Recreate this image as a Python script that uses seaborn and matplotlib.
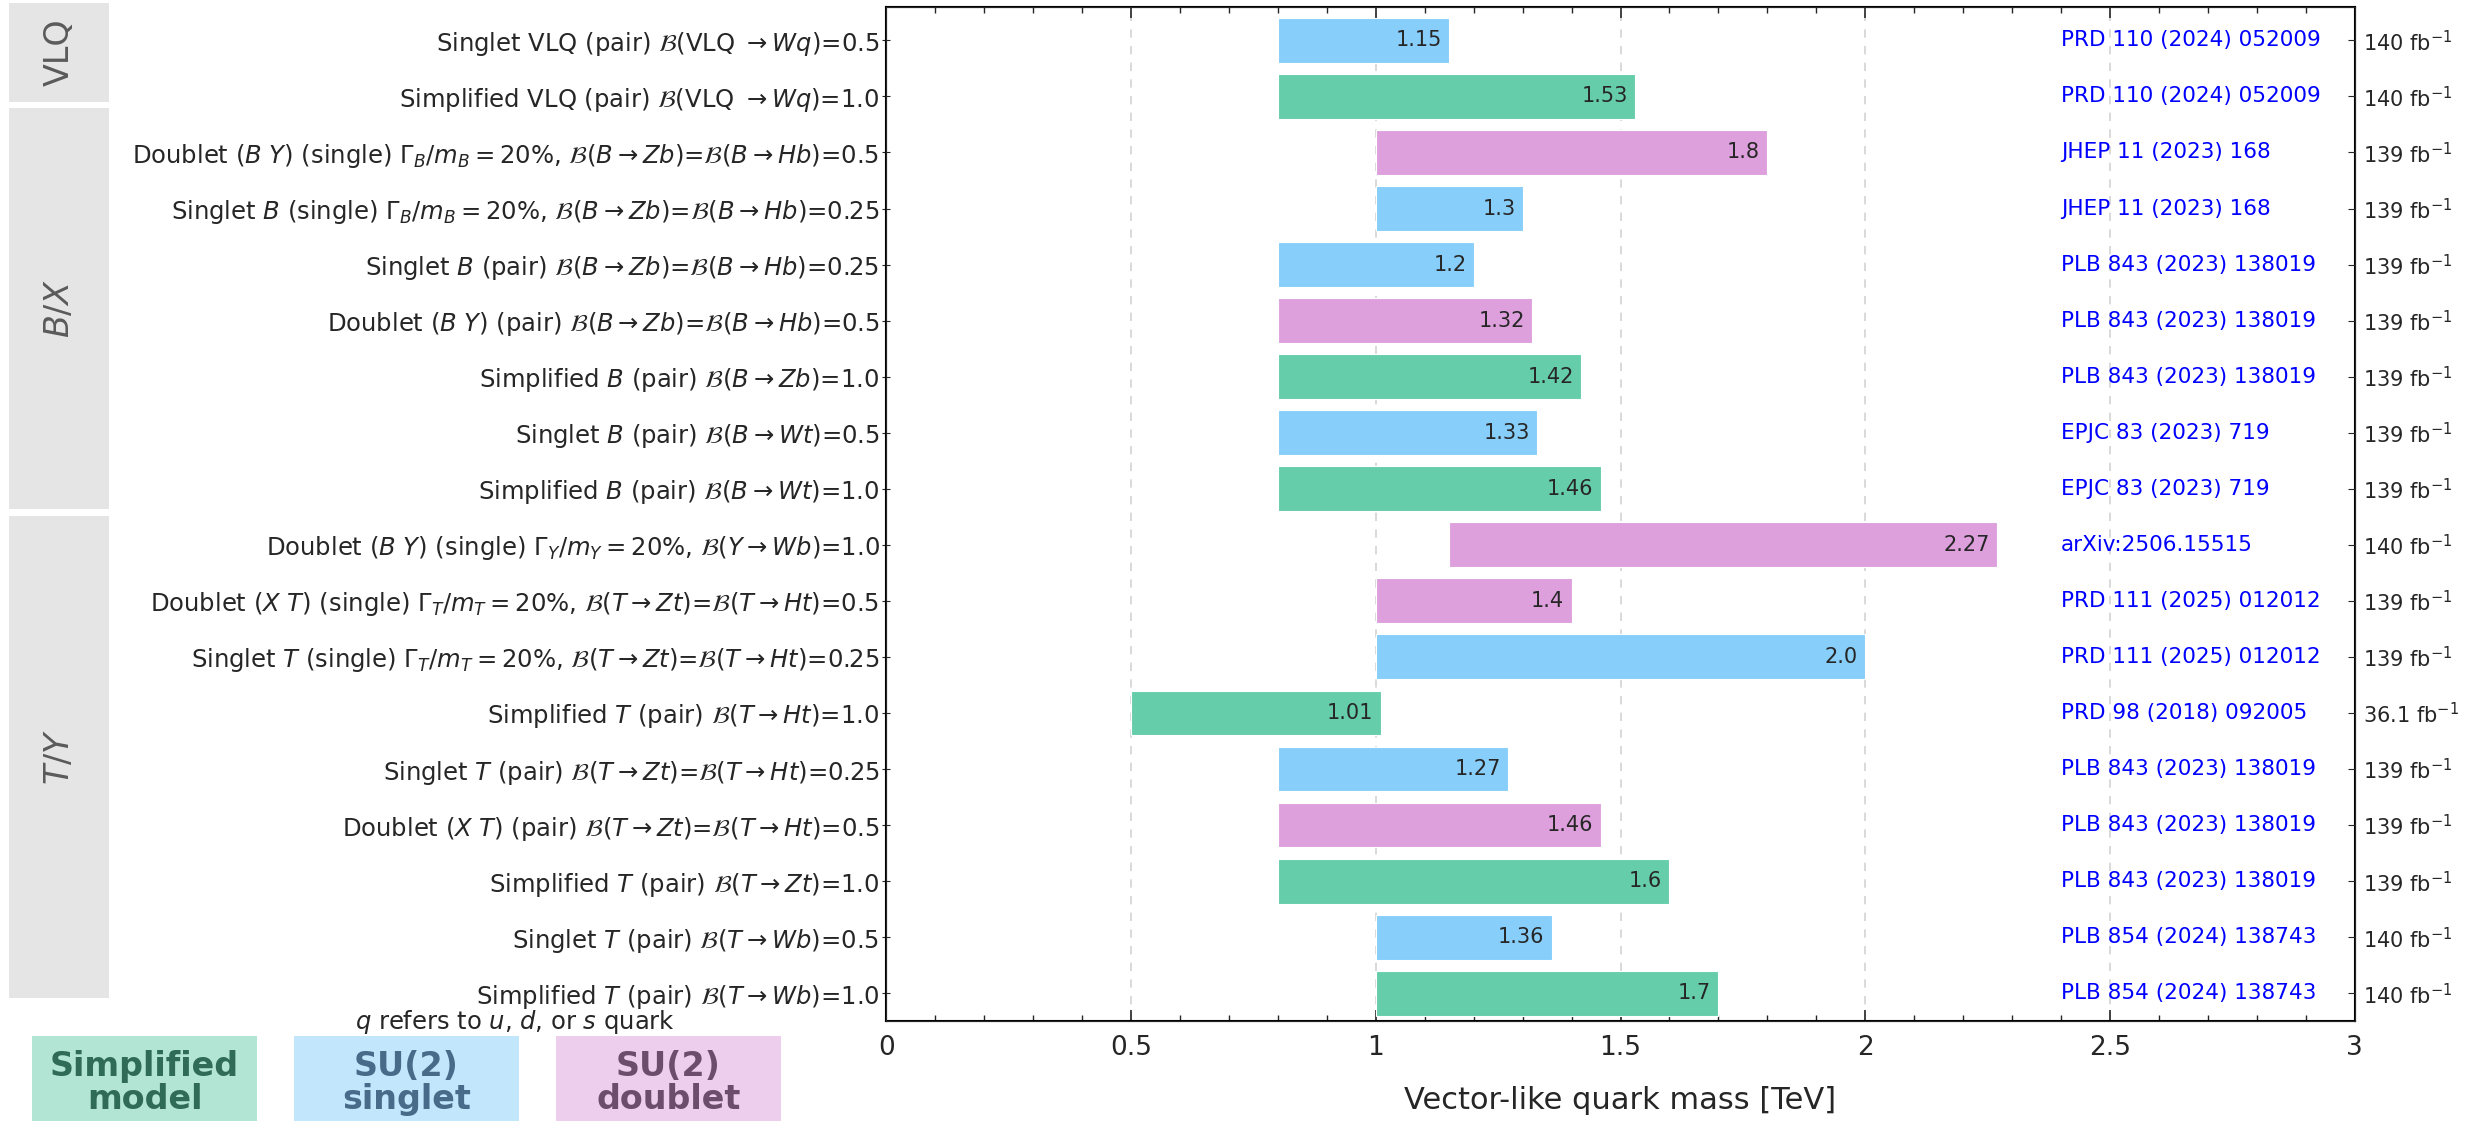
import matplotlib.pyplot as plt
import matplotlib.patches as mpatches
from matplotlib.ticker import MultipleLocator
import seaborn as sns
import pandas as pd

# Rows, top to bottom
labels = [
    r"Singlet VLQ (pair) $\mathcal{B}$(VLQ $\rightarrow Wq$)=0.5",
    r"Simplified VLQ (pair) $\mathcal{B}$(VLQ $\rightarrow Wq$)=1.0",
    r"Doublet ($B$ $Y$) (single) $\Gamma_B/m_B = $20%, $\mathcal{B}(B\rightarrow Zb)$=$\mathcal{B}(B\rightarrow Hb)$=0.5",
    r"Singlet $B$ (single) $\Gamma_B/m_B = $20%, $\mathcal{B}(B\rightarrow Zb)$=$\mathcal{B}(B\rightarrow Hb)$=0.25",
    r"Singlet $B$ (pair) $\mathcal{B}(B\rightarrow Zb)$=$\mathcal{B}(B\rightarrow Hb)$=0.25",
    r"Doublet ($B$ $Y$) (pair) $\mathcal{B}(B\rightarrow Zb)$=$\mathcal{B}(B\rightarrow Hb)$=0.5",
    r"Simplified $B$ (pair) $\mathcal{B}(B\rightarrow Zb)$=1.0",
    r"Singlet $B$ (pair) $\mathcal{B}(B\rightarrow Wt)$=0.5",
    r"Simplified $B$ (pair) $\mathcal{B}(B\rightarrow Wt)$=1.0",
    r"Doublet ($B$ $Y$) (single) $\Gamma_Y/m_Y = $20%, $\mathcal{B}(Y\rightarrow Wb)$=1.0",
    r"Doublet ($X$ $T$) (single) $\Gamma_T/m_T = $20%, $\mathcal{B}(T\rightarrow Zt)$=$\mathcal{B}(T\rightarrow Ht)$=0.5",
    r"Singlet $T$ (single) $\Gamma_T/m_T = $20%, $\mathcal{B}(T\rightarrow Zt)$=$\mathcal{B}(T\rightarrow Ht)$=0.25",
    r"Simplified $T$ (pair) $\mathcal{B}(T\rightarrow Ht)$=1.0",
    r"Singlet $T$ (pair) $\mathcal{B}(T\rightarrow Zt)$=$\mathcal{B}(T\rightarrow Ht)$=0.25",
    r"Doublet ($X$ $T$) (pair) $\mathcal{B}(T\rightarrow Zt)$=$\mathcal{B}(T\rightarrow Ht)$=0.5",
    r"Simplified $T$ (pair) $\mathcal{B}(T\rightarrow Zt)$=1.0",
    r"Singlet $T$ (pair) $\mathcal{B}(T\rightarrow Wb)$=0.5",
    r"Simplified $T$ (pair) $\mathcal{B}(T\rightarrow Wb)$=1.0",
]
starts = [0.8, 0.8, 1.0, 1.0, 0.8, 0.8, 0.8, 0.8, 0.8,
          1.15, 1.0, 1.0, 0.5, 0.8, 0.8, 0.8, 1.0, 1.0]
limits = [1.15, 1.53, 1.8, 1.3, 1.2, 1.32, 1.42, 1.33, 1.46,
          2.27, 1.4, 2.0, 1.01, 1.27, 1.46, 1.6, 1.36, 1.7]
models = ["Singlet", "Simplified", "Doublet", "Singlet", "Singlet", "Doublet",
          "Simplified", "Singlet", "Simplified", "Doublet", "Doublet", "Singlet",
          "Simplified", "Singlet", "Doublet", "Simplified", "Singlet", "Simplified"]
refs = ["PRD 110 (2024) 052009", "PRD 110 (2024) 052009",
        "JHEP 11 (2023) 168", "JHEP 11 (2023) 168",
        "PLB 843 (2023) 138019", "PLB 843 (2023) 138019", "PLB 843 (2023) 138019",
        "EPJC 83 (2023) 719", "EPJC 83 (2023) 719",
        "arXiv:2506.15515",
        "PRD 111 (2025) 012012", "PRD 111 (2025) 012012",
        "PRD 98 (2018) 092005",
        "PLB 843 (2023) 138019", "PLB 843 (2023) 138019", "PLB 843 (2023) 138019",
        "PLB 854 (2024) 138743", "PLB 854 (2024) 138743"]
lumis = ["140", "140", "139", "139", "139", "139", "139", "139", "139",
         "140", "139", "139", "36.1", "139", "139", "139", "140", "140"]

sections = ["VLQ", "$B/X$", "$T/Y$"]
legend_names = ["Simplified\nmodel", "SU(2)\nsinglet", "SU(2)\ndoublet"]

palette = {"Simplified": "mediumaquamarine", "Singlet": "lightskyblue", "Doublet": "plum"}
text_colors = ["#2f6b57", "#476b88", "#6c4d6c"]

sns.set_style("ticks")
plt.rcParams["font.family"] = ["DejaVu Sans"]
plt.rcParams["mathtext.fontset"] = "dejavusans"

df = pd.DataFrame({"label": labels, "start": starts, "limit": limits, "model": models})

fig = plt.figure(figsize=(24.76, 11.21), dpi=100)
ax = fig.add_axes([0.358, 0.089, 0.593, 0.905])

sns.barplot(data=df, x="limit", y="label", hue="model", palette=palette, saturation=1,
            dodge=False, orient="h", width=0.8, legend=False, ax=ax,
            edgecolor="white", linewidth=0.8, zorder=3)

# bars start at the lower edge of the search range
for bar in ax.patches:
    i = int(round(bar.get_y() + bar.get_height() / 2))
    bar.set_x(starts[i])
    bar.set_width(limits[i] - starts[i])

for i in range(len(labels)):
    ax.text(limits[i] - 0.015, i, str(limits[i]), ha="right", va="center", fontsize=15, zorder=4)
    ax.text(2.4, i, refs[i], ha="left", va="center", color="blue", fontsize=15.5)

ax.set_xlim(0, 3)
ax.set_ylim(17.5, -0.6)
ax.xaxis.set_minor_locator(MultipleLocator(0.1))
ax.set_xticks([0, 0.5, 1, 1.5, 2, 2.5, 3])
ax.set_xticklabels(["0", "0.5", "1", "1.5", "2", "2.5", "3"])
ax.xaxis.grid(True, which="major", ls=(0, (5, 5)), color="#d3d3d3", lw=1.2, zorder=0)
ax.tick_params(axis="x", which="major", direction="in", top=True, length=8, width=1.2, labelsize=19, pad=10)
ax.tick_params(axis="x", which="minor", direction="in", top=True, length=4, width=1)
ax.tick_params(axis="y", direction="inout", length=6, labelsize=17.5, pad=2)
ax.set_ylabel("")
ax.set_xlabel("Vector-like quark mass [TeV]", fontsize=22, labelpad=18)
for s in ax.spines.values():
    s.set_linewidth(1.5)
    s.set_color("black")

ax2 = ax.twinx()
ax2.set_ylim(ax.get_ylim())
ax2.set_yticks(range(len(lumis)))
ax2.set_yticklabels([l + r" fb$^{-1}$" for l in lumis])
ax2.tick_params(axis="y", direction="in", length=5, labelsize=15, pad=6)

# section boxes on the left
sec_boxes = [(0.909, 0.997), (0.546, 0.904), (0.110, 0.540)]
for name, (y0, y1) in zip(sections, sec_boxes):
    fig.add_artist(mpatches.Rectangle((0.0036, y0), 0.0404, y1 - y0, transform=fig.transFigure,
                                      facecolor="#e5e5e5", edgecolor="none"))
    fig.text(0.024, (y0 + y1) / 2, name, rotation=90, ha="center", va="center",
             fontsize=24, color="#5a5a5a")

fig.text(0.208, 0.088, r"$q$ refers to $u$, $d$, or $s$ quark", ha="center", va="center", fontsize=17.5)

# colour key
for j, (name, key) in enumerate(zip(legend_names, ["Simplified", "Singlet", "Doublet"])):
    x0 = 0.0129 + j * 0.1058
    fig.add_artist(mpatches.Rectangle((x0, 0.0), 0.0909, 0.076, transform=fig.transFigure,
                                      facecolor=palette[key], alpha=0.5, edgecolor="none"))
    fig.text(x0 + 0.0455, 0.034, name, ha="center", va="center", fontsize=24,
             fontweight="bold", color=text_colors[j], linespacing=1.0)

fig.savefig("out.png", dpi=100)
